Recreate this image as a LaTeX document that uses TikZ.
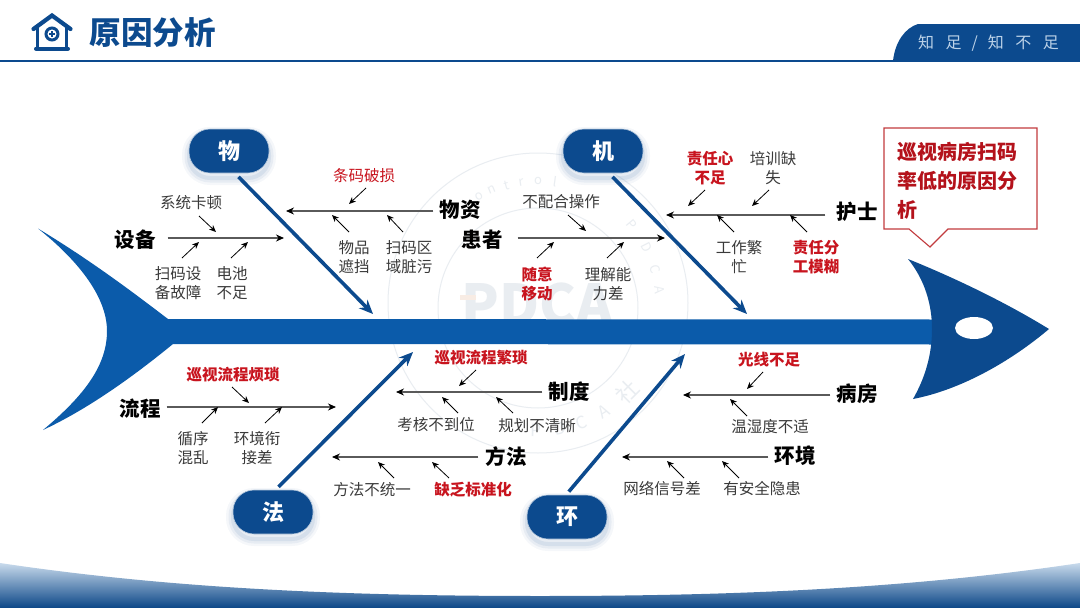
\documentclass[tikz,border=0pt]{standalone}
\usepackage{fontspec}
\setmainfont{Noto Sans CJK SC}
\usetikzlibrary{arrows.meta,calc}
\definecolor{navy}{HTML}{0C4A8E}
\definecolor{spinec}{HTML}{0B5BAA}
\definecolor{redtxt}{HTML}{C8141E}
\definecolor{redline}{HTML}{C23B3E}
\definecolor{txt}{HTML}{3A3A3A}
\definecolor{boneg}{HTML}{5A5A5A}
\definecolor{wm}{HTML}{E9EDF1}
\definecolor{wmo}{HTML}{F8ECE4}
\definecolor{tabtxt}{HTML}{BCD2E8}
\tikzset{
  x=1pt,y=-1pt,
  cause/.style={font=\fontsize{15.5}{19}\selectfont,text=txt,align=center,inner sep=0pt},
  redcause/.style={font=\fontsize{15.5}{19}\selectfont\bfseries,text=redtxt,align=center,inner sep=0pt},
  head/.style={font=\fontsize{20.5}{24}\selectfont\bfseries,text=black,inner sep=0pt},
  pill/.style={rounded corners=21pt,minimum width=80pt,minimum height=44pt,inner sep=0pt,fill=navy,draw=white!70!navy,line width=.6pt,
    text=white,font=\fontsize{22}{26}\selectfont\bfseries,
    preaction={draw=navy,opacity=.04,line width=14pt,transform canvas={yshift=-5pt}},
    preaction={draw=navy,opacity=.06,line width=9pt,transform canvas={yshift=-5pt}},
    preaction={draw=navy,opacity=.08,line width=4pt,transform canvas={yshift=-5pt}}},
  bone/.style={draw=boneg,line width=1.1pt,-{Stealth[length=8pt,width=7pt,color=black]}},
  twig/.style={draw=black,line width=.8pt,-{Stealth[length=7pt,width=6pt]}},
  rib/.style={draw=navy,line width=3.6pt,-{Stealth[length=14pt,width=12pt]}},
}
\begin{document}
\begin{tikzpicture}
\useasboundingbox (0,0) rectangle (1080,608);
\fill[white] (0,0) rectangle (1080,608);

% watermark
\draw[wm,line width=1pt] (538,303) circle[radius=150];
\draw[wm,line width=1pt] (538,308) circle[radius=100];
\foreach \ch/\ang in {o/-29,n/-22,t/-15,r/-8,o/0,l/8,P/50,D/63,C/74,A/84}{
  \node[text=wm,font=\fontsize{13}{15}\selectfont,rotate=-\ang,inner sep=0pt] (wmt\ang) at ({538+122*sin(\ang)},{303-122*cos(\ang)}) {\ch};
}
\foreach \ch/\ang in {P/181,D/170,C/160,A/149}{
  \node[text=wm,font=\fontsize{17}{19}\selectfont,rotate=180-\ang,inner sep=0pt] (wmb\ang) at ({538+127*sin(\ang)},{303-127*cos(\ang)}) {\ch};
}
\node[text=wm,font=\fontsize{22}{24}\selectfont,rotate=45,inner sep=0pt] (wmshe) at (627,392) {社};
\node[text=wm,font=\fontsize{55}{57}\selectfont\bfseries,inner sep=0pt] (wmlogo) at (537,304) {PDCA};
\fill[wmo] (460,295) rectangle (476,300);

% bottom band
\shade[top color=white!55!spinec!50,bottom color=navy!95!black] (0,563) .. controls (180,590) and (360,596) .. (540,596) .. controls (720,596) and (900,590) .. (1080,563) -- (1080,608) -- (0,608) -- cycle;

% header
\fill[navy] (893,61) .. controls (895,42) and (905,28) .. (918,24) -- (1080,24) -- (1080,61) -- cycle;
\draw[navy,line width=1.6pt] (0,61) -- (1080,61);
\node[font=\fontsize{16}{18}\selectfont,text=tabtxt,inner sep=0pt] (tabtxtn) at (988.5,43) {知\hspace{11.5pt}足\hspace{10pt}/\hspace{10pt}知\hspace{11.5pt}不\hspace{11.5pt}足};
\node[font=\fontsize{31.5}{34}\selectfont\bfseries,text=navy,inner sep=0pt] (title) at (152.5,33) {原因分析};
% house icon
\draw[navy,line width=4.2pt,line cap=round,line join=miter] (33.5,29) -- (52,15.5) -- (70.5,29);
\draw[navy,line width=3.2pt] (37.5,26) -- (37.5,48) (66.5,26) -- (66.5,48);
\draw[navy,line width=4pt,line cap=round] (36,48.5) -- (68,48.5);
\draw[navy,line width=3pt] (52,34) circle[radius=6];
\draw[navy,line width=1.4pt] (49,34) -- (55,34) (52,31) -- (52,37);

% fish
\fill[spinec] (38,228.5) .. controls (90,260) and (130,290) .. (168,319) -- (935,319.5) -- (935,344.5) -- (173,344) .. controls (135,375) and (90,408) .. (43,430) .. controls (85,395) and (107,365) .. (107,331) .. controls (107,295) and (75,258) .. (38,228.5) -- cycle;
\fill[navy] (908,259) .. controls (955,278) and (1005,302) .. (1049,329) .. controls (1010,362) and (960,390) .. (913,399) .. controls (925,378) and (932,355) .. (932,329) .. controls (932,305) and (925,280) .. (908,259) -- cycle;
\fill[white] (974,328) ellipse[x radius=19,y radius=11];

% callout
\draw[redline,line width=1.1pt,fill=white] (884,128) -- (1037,128) -- (1037,229) -- (948,229) -- (930,247) -- (909,229) -- (884,229) -- cycle;
\node[font=\fontsize{20}{29}\selectfont\bfseries,text=redtxt!90!black,align=left,anchor=west,inner sep=0pt] (goal) at (897,181) {巡视病房扫码\\率低的原因分\\析};

% category pills
\node[pill] (wu) at (229,151) {物};
\node[pill] (ji) at (603,151) {机};
\node[pill] (fa) at (273,512) {法};
\node[pill] (huan) at (567,517) {环};

% ribs
\coordinate (wuE) at (373,314);
\coordinate (jiE) at (747,314);
\coordinate (faE) at (413,352);
\coordinate (huanE) at (685,354);
\draw[rib,shorten <=5pt] (wu.-75) -- (wuE);
\draw[rib,shorten <=5pt] (ji.-75) -- (jiE);
\draw[rib,shorten <=4pt] (fa.83) -- (faE);
\draw[rib,shorten <=4pt] (huan.92) -- (huanE);

% bone labels
\node[head] (shebei) at (135,240) {设备};
\node[head] (wuzi) at (460,210) {物资};
\node[head] (huanzhe) at (482,240) {患者};
\node[head] (hushi) at (857,212) {护士};
\node[head] (liucheng) at (140,409) {流程};
\node[head] (zhidu) at (569,392) {制度};
\node[head] (fangfa) at (506,457) {方法};
\node[head] (bingfang) at (857,394) {病房};
\node[head] (huanjing) at (795,456) {环境};

% bones
\coordinate (bA) at (284,238);
\coordinate (bB) at (286,211);
\coordinate (bC) at (665,238);
\coordinate (bD) at (666,215);
\coordinate (bE) at (336,407);
\coordinate (bF) at (396,392);
\coordinate (bG) at (332,457);
\coordinate (bH) at (683,395);
\coordinate (bI) at (622,457);
\draw[bone,shorten <=12pt] (shebei.east |- bA) -- (bA);
\draw[bone,shorten <=6pt] (wuzi.west |- bB) -- (bB);
\draw[bone,shorten <=15pt] (huanzhe.east |- bC) -- (bC);
\draw[bone,shorten <=11pt] (hushi.west |- bD) -- (bD);
\draw[bone,shorten <=6pt] (liucheng.east |- bE) -- (bE);
\draw[bone,shorten <=6pt] (zhidu.west |- bF) -- (bF);
\draw[bone,shorten <=7pt] (fangfa.west |- bG) -- (bG);
\draw[bone,shorten <=6pt] (bingfang.west |- bH) -- (bH);
\draw[bone,shorten <=6pt] (huanjing.west |- bI) -- (bI);

% causes
\node[cause] (c1) at (191,203) {系统卡顿};
\node[cause] (c2) at (178,283) {扫码设\\备故障};
\node[cause] (c3) at (232,283) {电池\\不足};
\node[font=\fontsize{15.5}{19}\selectfont,text=redtxt,inner sep=0pt] (c4) at (364,176) {条码破损};
\node[cause] (c5) at (354,257) {物品\\遮挡};
\node[cause] (c6) at (409,257) {扫码区\\域脏污};
\node[cause] (c7) at (561,202) {不配合操作};
\node[redcause] (c8) at (537,284) {随意\\移动};
\node[cause] (c9) at (608,284) {理解能\\力差};
\node[redcause] (c10) at (710,168) {责任心\\不足};
\node[cause] (c11) at (773,168) {培训缺\\失};
\node[cause] (c12) at (739,257) {工作繁\\忙};
\node[redcause] (c13) at (816,257) {责任分\\工模糊};
\node[redcause] (c14) at (233,375) {巡视流程烦琐};
\node[cause] (c15) at (193,448) {循序\\混乱};
\node[cause] (c16) at (257,448) {环境衔\\接差};
\node[redcause] (c17) at (481,358) {巡视流程繁琐};
\node[cause] (c18) at (436,425) {考核不到位};
\node[cause] (c19) at (537,426) {规划不清晰};
\node[cause] (c20) at (372,490) {方法不统一};
\node[redcause] (c21) at (473,490) {缺乏标准化};
\node[redcause] (c22) at (769,360) {光线不足};
\node[cause] (c23) at (770,427) {温湿度不适};
\node[cause] (c24) at (662,489) {网络信号差};
\node[cause] (c25) at (762,489) {有安全隐患};

% twigs
\foreach \i/\a/\b/\c/\d in {
 1/199/216/216/232, 2/182/258/199/242, 3/231/258/248/242,
 4/366/188/349/204, 5/349/232/332/215, 6/403/232/387/215,
 7/568/215/586/231, 8/537/258/554/242, 9/607/258/624/242,
 10/705/190/688/206, 11/769/190/752/206, 12/734/232/717/215, 13/807/232/790/215,
 14/232/387/249/403, 15/202/423/218/407, 16/265/423/282/407,
 17/476/370/459/386, 18/458/413/442/397, 19/513/413/496/397,
 20/394/478/378/462, 21/449/478/432/462,
 22/763/372/747/389, 23/747/416/730/399,
 24/684/478/667/461, 25/739/478/722/461}{
  \coordinate (ts\i) at (\a,\b);
  \coordinate (te\i) at (\c,\d);
  \draw[twig] (ts\i) -- (te\i);
}
\end{tikzpicture}
\end{document}
